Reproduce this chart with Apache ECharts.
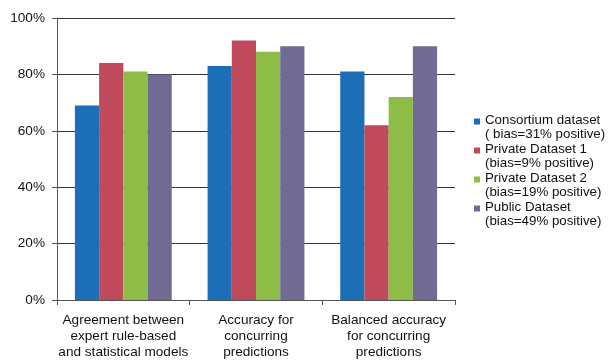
<!DOCTYPE html>
<html>
<head>
<meta charset="utf-8">
<script src="https://cdn.jsdelivr.net/npm/echarts@6/dist/echarts.min.js"></script>
<style>
  html, body { margin: 0; padding: 0; background: #fff; }
  #chart { width: 610px; height: 360px; }
</style>
</head>
<body>
<div id="chart"></div>
<script>
// Metric groups along the x axis
const categories = [
  'Agreement between\nexpert rule-based\nand statistical models',
  'Accuracy for\nconcurring\npredictions',
  'Balanced accuracy\nfor concurring\npredictions'
];

// Legend names for each dataset
const seriesNames = [
  'Consortium dataset\n( bias=31% positive)',
  'Private Dataset 1\n(bias=9% positive)',
  'Private Dataset 2\n(bias=19% positive)',
  'Public Dataset\n(bias=49% positive)'
];

// Percentages per dataset, one value per metric group
const consortium = [69, 83, 81];
const private1 = [84, 92, 62];
const private2 = [81, 88, 72];
const publicData = [80, 90, 90];

const yTicks = [0, 20, 40, 60, 80, 100];

const colors = ['#1c6fb6', '#bf4a5b', '#8dbd47', '#716b93'];
const values = [consortium, private1, private2, publicData];

// Square marker sitting at the top of a taller box, so it lines up with the first text line
const legendIcon = 'path://M0,0L7,0L7,7L0,7Z M0,20L0.001,20L0,20Z';

const chart = echarts.init(document.getElementById('chart'), null, { renderer: 'canvas' });

chart.setOption({
  animation: false,
  backgroundColor: '#ffffff',
  textStyle: { fontFamily: 'Liberation Sans, Arial, sans-serif' },
  grid: { left: 57, right: 155, top: 18, bottom: 57, containLabel: false },
  legend: {
    orient: 'vertical',
    left: 474,
    top: 113,
    padding: 0,
    itemWidth: 6,
    itemHeight: 20,
    itemGap: 1,
    icon: legendIcon,
    textStyle: {
      fontSize: 13.3,
      color: '#111',
      lineHeight: 14,
      fontFamily: 'Liberation Sans, Arial, sans-serif'
    },
    data: seriesNames
  },
  xAxis: {
    type: 'category',
    data: categories,
    axisLine: { lineStyle: { color: '#555', width: 1 } },
    axisTick: { show: true, length: 5, lineStyle: { color: '#555' } },
    axisLabel: {
      fontSize: 13.6,
      color: '#111',
      lineHeight: 16,
      margin: 12,
      interval: 0
    }
  },
  yAxis: {
    type: 'value',
    min: 0,
    max: 100,
    interval: 20,
    axisLine: { show: true, lineStyle: { color: '#555', width: 1 } },
    axisTick: { show: true, length: 5, lineStyle: { color: '#555' } },
    splitLine: { show: true, lineStyle: { color: '#333', width: 1 } },
    axisLabel: {
      fontSize: 13.6,
      color: '#111',
      margin: 12,
      formatter: function (v) { return yTicks.indexOf(v) >= 0 ? v + '%' : ''; }
    }
  },
  series: seriesNames.map(function (name, i) {
    return {
      name: name,
      type: 'bar',
      data: values[i],
      barGap: '0%',
      barCategoryGap: '27%',
      itemStyle: { color: colors[i] }
    };
  })
});
</script>
</body>
</html>
